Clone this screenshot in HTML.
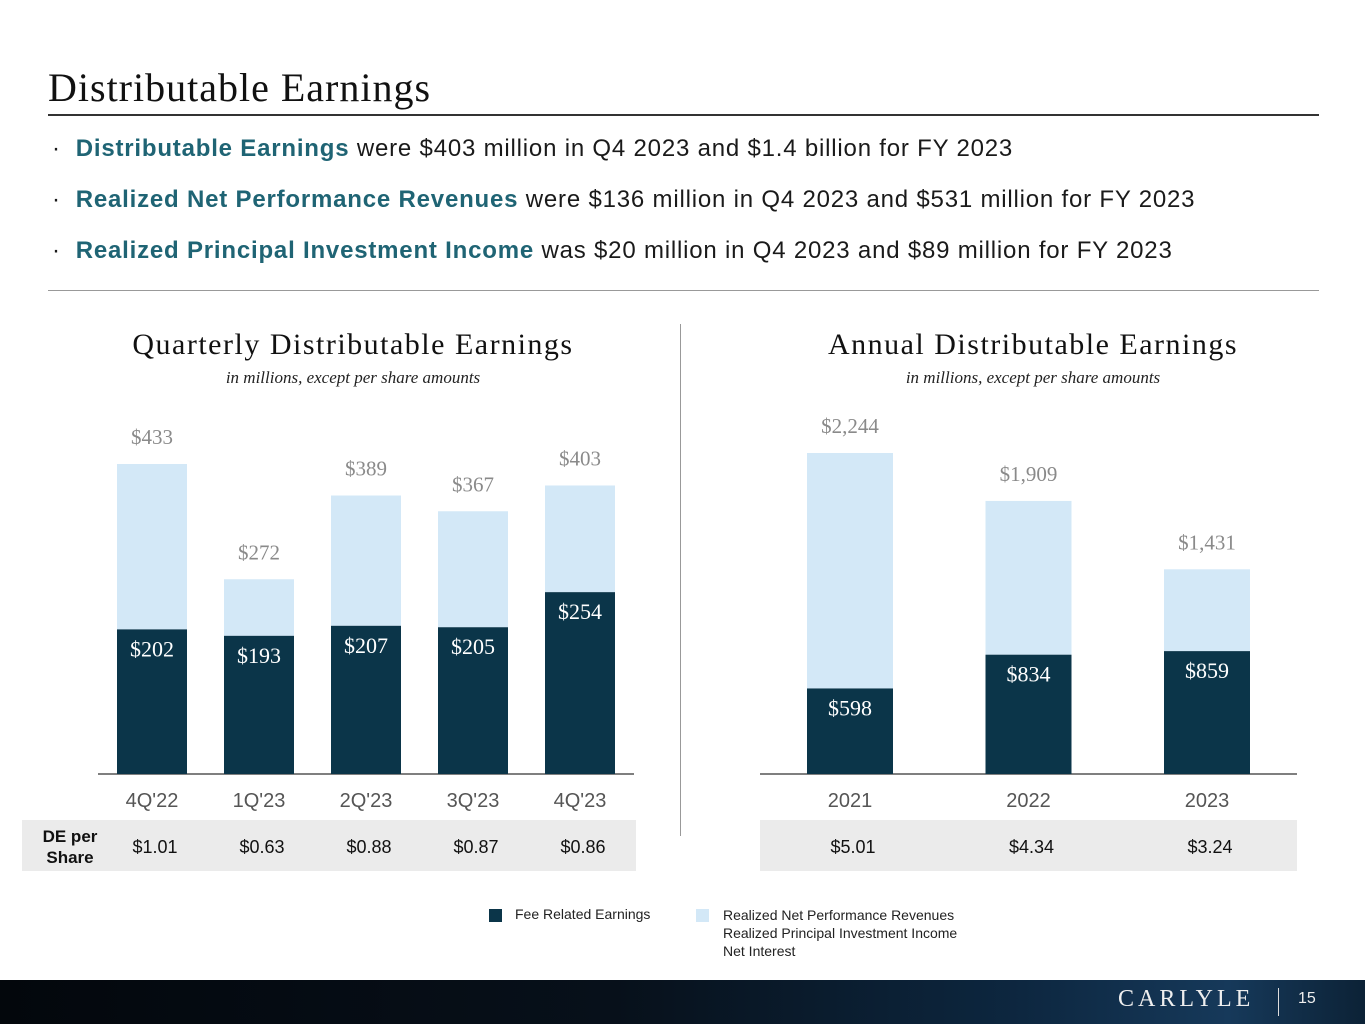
<!DOCTYPE html>
<html><head><meta charset="utf-8"><style>
body{margin:0;width:1365px;height:1024px;background:#fff;position:relative;overflow:hidden;font-family:"Liberation Sans",sans-serif}
.abs{position:absolute}
.title{left:48px;top:64px;font-family:"Liberation Serif",serif;font-size:40px;letter-spacing:1px;color:#111}
.bul{left:52px;font-size:24px;letter-spacing:0.8px;color:#1a1a1a;white-space:nowrap}
.bul b{color:#1f6474}
.ct{font-family:"Liberation Serif",serif;font-size:30px;letter-spacing:1.5px;color:#111;text-align:center}
.sub{font-family:"Liberation Serif",serif;font-style:italic;font-size:17px;color:#222;text-align:center}
</style></head><body>
<div class="abs title">Distributable Earnings</div>
<div class="abs" style="left:48px;top:114px;width:1271px;height:2px;background:#333"></div>
<div class="abs bul" style="top:135px">·&nbsp;&nbsp;<b>Distributable Earnings</b> were $403 million in Q4 2023 and $1.4 billion for FY 2023</div>
<div class="abs bul" style="top:186px">·&nbsp;&nbsp;<b>Realized Net Performance Revenues</b> were $136 million in Q4 2023 and $531 million for FY 2023</div>
<div class="abs bul" style="top:237px">·&nbsp;&nbsp;<b>Realized Principal Investment Income</b> was $20 million in Q4 2023 and $89 million for FY 2023</div>
<div class="abs" style="left:48px;top:290px;width:1271px;height:1px;background:#999"></div>
<div class="abs" style="left:680px;top:324px;width:1px;height:512px;background:#999"></div>
<div class="abs ct" style="left:53px;top:328px;width:600px">Quarterly Distributable Earnings</div>
<div class="abs sub" style="left:53px;top:368px;width:600px">in millions, except per share amounts</div>
<div class="abs ct" style="left:733px;top:328px;width:600px">Annual Distributable Earnings</div>
<div class="abs sub" style="left:733px;top:368px;width:600px">in millions, except per share amounts</div>
<div class="abs" style="left:22px;top:820px;width:614px;height:51px;background:#ebebeb"></div>
<div class="abs" style="left:760px;top:820px;width:537px;height:51px;background:#ebebeb"></div>
<div class="abs" style="left:30px;top:826px;width:80px;text-align:center;font-weight:bold;font-size:17px;line-height:21px;color:#111">DE per<br>Share</div>
<svg class="abs" style="left:0;top:0" width="1365" height="1024" id="chart"></svg>
<div class="abs" style="left:489px;top:909px;width:13px;height:13px;background:#0b3549"></div>
<div class="abs" style="left:515px;top:906px;font-size:14px;color:#222">Fee Related Earnings</div>
<div class="abs" style="left:696px;top:909px;width:13px;height:13px;background:#d3e8f7"></div>
<div class="abs" style="left:723px;top:906px;font-size:14px;line-height:18px;color:#222">Realized Net Performance Revenues<br>Realized Principal Investment Income<br>Net Interest</div>
<div class="abs" style="left:0;top:980px;width:1365px;height:44px;background:linear-gradient(90deg,#03070c 0%,#07101a 45%,#0d2740 75%,#16395a 90%,#0c2236 100%)"></div>
<div class="abs" style="left:1118px;top:986px;font-family:'Liberation Serif',serif;font-size:24px;letter-spacing:4px;color:#eee">CARLYLE</div>
<div class="abs" style="left:1278px;top:988px;width:1px;height:28px;background:#ddd"></div>
<div class="abs" style="left:1298px;top:990px;font-size:16px;color:#eee">15</div>
<script>
const qCats=["4Q'22","1Q'23","2Q'23","3Q'23","4Q'23"];
const qFre=[202,193,207,205,254];
const qTotal=[433,272,389,367,403];
const qEps=["$1.01","$0.63","$0.88","$0.87","$0.86"];
const aCats=["2021","2022","2023"];
const aFre=[598,834,859];
const aTotal=[2244,1909,1431];
const aEps=["$5.01","$4.34","$3.24"];
const svg=document.getElementById('chart');const NS='http://www.w3.org/2000/svg';
function mk(t,a,txt){const e=document.createElementNS(NS,t);for(const k in a)e.setAttribute(k,a[k]);if(txt!=null)e.textContent=txt;svg.appendChild(e);return e;}
function fmt(v){return '$'+v.toLocaleString('en-US');}
function draw(cats,fre,tot,eps,o){
 const y=v=>o.base-v*o.scale;
 const x=i=>o.x0+i*o.step;
 const ax=mk('line',{x1:o.ax0,x2:o.ax1,y1:o.base,y2:o.base,stroke:'#555','stroke-width':1.5});
 
 cats.forEach((c,i)=>{
  const r1=mk('rect',{x:x(i),y:y(tot[i]),width:o.w,height:(tot[i]-fre[i])*o.scale,fill:'#d3e8f7'});
  
  const r2=mk('rect',{x:x(i),y:y(fre[i]),width:o.w,height:fre[i]*o.scale,fill:'#0b3549'});
  
  const cx=x(i)+o.w/2;
  const t1=mk('text',{x:cx,y:y(tot[i])-20,'text-anchor':'middle','font-family':'Liberation Serif,serif','font-size':21,fill:'#8a8a8a'},fmt(tot[i]));
  
  const t2=mk('text',{x:cx,y:y(fre[i])+27,'text-anchor':'middle','font-family':'Liberation Serif,serif','font-size':22,fill:'#fff'},fmt(fre[i]));
  
  const t3=mk('text',{x:cx,y:o.base+33,'text-anchor':'middle','font-size':20,fill:'#555'},c);
  
  const t4=mk('text',{x:cx+3,y:853,'text-anchor':'middle','font-size':18,fill:'#111'},eps[i]);
  
 });
}
draw(qCats,qFre,qTotal,qEps,{p:'quarterly',base:774,scale:310/433,x0:117,step:107,w:70,ax0:98,ax1:634});
draw(aCats,aFre,aTotal,aEps,{p:'annual',base:774,scale:321/2244,x0:807,step:178.5,w:86,ax0:760,ax1:1297});
</script>
</body></html>
